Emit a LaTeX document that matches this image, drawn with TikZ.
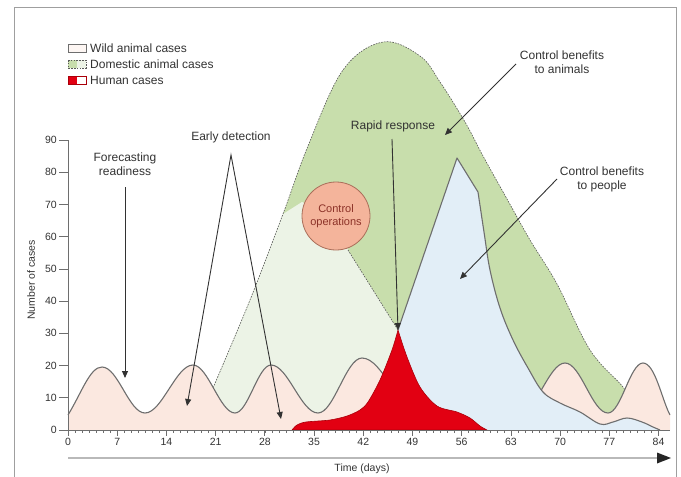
\documentclass[tikz,border=0pt]{standalone}
\usepackage{fontspec}
\setmainfont{Liberation Sans}
\usetikzlibrary{arrows.meta}
\definecolor{wildfill}{RGB}{251,232,224}
\definecolor{palefill}{RGB}{236,243,230}
\definecolor{domgreen}{RGB}{200,222,172}
\definecolor{bluefill}{RGB}{226,238,247}
\definecolor{humanred}{RGB}{226,0,18}
\definecolor{humanedge}{RGB}{170,0,10}
\definecolor{circfill}{RGB}{244,180,155}
\definecolor{circedge}{RGB}{170,110,90}
\definecolor{circtext}{RGB}{140,50,40}
\definecolor{curvegray}{RGB}{110,110,110}
\definecolor{txtgray}{RGB}{50,50,50}
\def\wildpath{(68,415) .. controls (82,392) and (90,367) .. (102,367)
 .. controls (118,367) and (129,413) .. (145,413)
 .. controls (162,413) and (176,365) .. (193,365)
 .. controls (208,365) and (220,413) .. (235,413)
 .. controls (248,413) and (258,365) .. (271,365)
 .. controls (288,365) and (301,413) .. (318,413)
 .. controls (334,413) and (346,358) .. (362,358)
 .. controls (383,358) and (399,413) .. (420,413)
 .. controls (438,413) and (452,380) .. (470,380)
 .. controls (488,380) and (502,413) .. (520,413)
 .. controls (536,413) and (549,363) .. (565,363)
 .. controls (581,363) and (592,413) .. (608,413)
 .. controls (621,413) and (630,363) .. (643,363)
 .. controls (655,363) and (662,400) .. (670,415)}
\def\greenpath{plot[smooth, tension=0.6] coordinates {(213,388) (250,300) (283,214) (308,146) (343,70) (383,42) (420,56) (440,82) (465,122) (483,156) (507,199) (530,240) (557,284) (590,350) (623,387) (628,400)}}
\def\bluepath{(398,330) -- (457,158) -- (478,192) -- plot[smooth, tension=0.6] coordinates {(478,192) (484,232) (490,270) (500,308) (513,340) (528,368) (543,392) (560,403) (580,412) (600,424) (613,422) (627,418) (642,422) (653,427) (660,430)}}
\begin{document}
\begin{tikzpicture}[x=1pt,y=-1pt,
  font=\fontsize{12}{14}\selectfont,
  curve/.style={draw=curvegray, line width=1.1pt, line join=round},
  domdash/.style={draw=black!65, line width=0.6pt, dash pattern=on 1.6pt off 1.2pt},
  arr/.style={-{Triangle[length=7pt,width=6pt]}, draw=txtgray, line width=0.9pt},
  lbl/.style={align=center, text=txtgray, inner sep=1pt},
  ticklbl/.style={text=txtgray, font=\fontsize{10.5}{12}\selectfont, inner sep=1pt},
  legtxt/.style={anchor=west, text=txtgray, inner sep=1pt}
]
\useasboundingbox (0,0) rectangle (681,477);
\clip (0,0) rectangle (681,477);

% frame
\draw[gray!75, line width=1pt] (14,7) rectangle (676,500);

% coordinates
\coordinate (rpeak) at (398,330);
\coordinate (bpeak) at (457,158);

% domestic (green) hump
\fill[domgreen] \greenpath -- (628,430) -- (213,430) -- cycle;

% pale (reduced domestic) region
\fill[palefill] (213,388) -- (250,300) -- (283,214) -- (302,202) -- (336,216) -- (348,250) -- (rpeak) -- (398,430) -- (213,430) -- cycle;

% dashed outlines
\draw[domdash] \greenpath;
\draw[domdash] (348,250) -- (rpeak);

% wild animal cases
\fill[wildfill] \wildpath -- (670,430) -- (68,430) -- cycle;
\draw[curve] \wildpath;

% control benefits to people (blue)
\fill[bluefill] \bluepath -- (398,430) -- cycle;
\draw[curve] \bluepath;

% human cases (red)
\filldraw[fill=humanred, draw=humanedge, line width=0.6pt, line join=round] (292,430) -- plot[smooth, tension=0.5] coordinates {(292,430) (297,425) (306,422) (330,420) (347,416) (360,410) (368,402) (380,380) (392,350) (398,330)} -- plot[smooth, tension=0.5] coordinates {(398,330) (407,357) (420,387) (437,406) (457,412) (470,418) (480,426) (487,430)} -- cycle;

% control operations circle
\node[circle, minimum size=68pt, fill=circfill, draw=circedge, line width=0.8pt, text=circtext, align=center, inner sep=0pt, font=\fontsize{11}{13}\selectfont] (ctrl) at (336,216) {Control\\operations};

% axes
\draw[curvegray, line width=0.9pt] (68,140) -- (68,430) -- (670,430);
\foreach \d in {0,...,84} \draw[curvegray, line width=0.5pt] ({68+7.03*\d},430) -- ++(0,3);
\foreach \d in {0,7,...,84} {
  \draw[curvegray, line width=0.7pt] ({68+7.03*\d},430) -- ++(0,6);
  \node[ticklbl, anchor=north] at ({68+7.03*\d},437) {\d};
}
\foreach \v in {0,10,...,90} {
  \draw[curvegray, line width=0.8pt] (59,{430-3.222*\v}) -- (68,{430-3.222*\v});
  \node[ticklbl, anchor=east] at (58,{430-3.222*\v}) {\v};
}
\node[ticklbl, rotate=90] (ylab) at (31,280) {Number of cases};

% time arrow
\coordinate (tstart) at (68,458);
\coordinate (tend) at (671,458);
\draw[gray!55, line width=2.6pt] (tstart) -- (660,458);
\fill[black!85] (657,452.5) -- (tend) -- (657,463.5) -- cycle;
\node[ticklbl] (tlab) at (362,469) {Time (days)};

% legend
\draw[curvegray, fill=wildfill!40, line width=0.8pt] (68,44) rectangle (86,52);
\fill[domgreen] (68,60) rectangle (77,68);
\fill[palefill] (77,60) rectangle (86,68);
\draw[domdash] (68,60) rectangle (86,68);
\fill[humanred] (68,76) rectangle (77,84);
\draw[humanedge, line width=0.8pt] (68,76) rectangle (86,84);
\node[legtxt] (lw) at (89,48) {Wild animal cases};
\node[legtxt] (ld) at (89,64) {Domestic animal cases};
\node[legtxt] (lh) at (89,80) {Human cases};

% annotations
\node[lbl] (fr) at (125,164) {Forecasting\\readiness};
\coordinate (frs) at (125,187);
\coordinate (frt) at (125,378);
\draw[arr] (frs) -- (frt);

\node[lbl] (ed) at (231,137) {Early detection};
\coordinate (apex) at (231,155);
\coordinate (edt1) at (187,406);
\coordinate (edt2) at (281,419);
\draw[{Triangle[length=7pt,width=6pt]}-{Triangle[length=7pt,width=6pt]}, draw=txtgray, line width=0.9pt, line join=miter] (edt1) -- (apex) -- (edt2);

\node[lbl] (rr) at (393,126) {Rapid response};
\coordinate (rrs) at (392,139);
\draw[arr] (rrs) -- (rpeak);

\node[lbl] (cba) at (562,62) {Control benefits\\to animals};
\coordinate (cbas) at (516,64);
\coordinate (cbat) at (445,135);
\draw[arr] (cbas) -- (cbat);

\node[lbl] (cbp) at (602,179) {Control benefits\\to people};
\coordinate (cbps) at (557,179);
\coordinate (cbpt) at (460,279);
\draw[arr] (cbps) -- (cbpt);
\end{tikzpicture}
\end{document}
